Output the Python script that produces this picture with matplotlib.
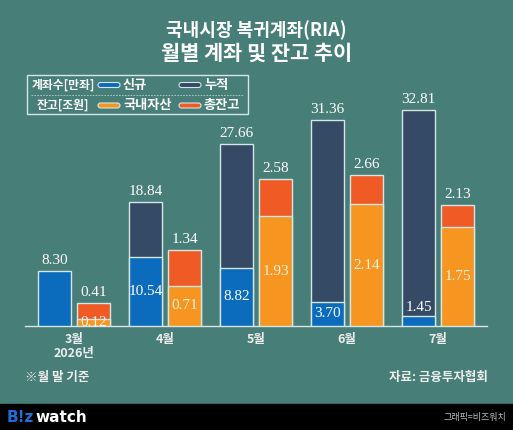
import numpy as np
import matplotlib
matplotlib.use("Agg")
import matplotlib.pyplot as plt
from matplotlib.patches import FancyBboxPatch, Rectangle

plt.rcParams['font.family'] = ['Noto Sans CJK KR', 'DejaVu Sans']

## data
months = ['3월', '4월', '5월', '6월', '7월']
acc_new = [8.30, 10.54, 8.82, 3.70, 1.45]        # 신규 계좌 (만좌)
acc_total = [None, 18.84, 27.66, 31.36, 32.81]   # 누적 계좌 (만좌)
bal_dom = [0.12, 0.71, 1.93, 2.14, 1.75]         # 국내자산 (조원)
bal_total = [0.41, 1.34, 2.58, 2.66, 2.13]       # 총잔고 (조원)

BG = '#477e77'
C_NEW = '#0b6cbd'
C_TOT = '#354a64'
C_DOM = '#f6951f'
C_BAL = '#ef5a25'
EDGE = '#d5e5e8'
TXT = '#eeeeee'
NUMFONT = 'Liberation Serif'

W, H = 513, 430
fig = plt.figure(figsize=(W / 100, H / 100), dpi=100, facecolor=BG)

# overlay in pixel coords for decorations
deco = fig.add_axes([0, 0, 1, 1], zorder=0)
deco.set_xlim(0, W)
deco.set_ylim(H, 0)
deco.axis('off')
deco.set_facecolor(BG)

# title
deco.text(W / 2, 30, '국내시장 복귀계좌(RIA)', color='white', fontsize=13,
          fontweight='heavy', ha='center', va='center')
deco.text(W / 2, 53, '월별 계좌 및 잔고 추이', color='white', fontsize=15,
          fontweight='heavy', ha='center', va='center')

# legend box
deco.add_patch(Rectangle((27, 75), 221, 39, fill=False, ec=EDGE, lw=1))
deco.plot([31, 244], [95, 95], color=EDGE, lw=0.6, ls=(0, (2, 1.5)), alpha=0.8)
deco.text(32, 85, '계좌수[만좌]', color='white', fontsize=8.5, va='center', fontweight='bold')
deco.text(37, 105.5, '잔고[조원]', color='white', fontsize=8.5, va='center', fontweight='bold')
for (x, y, c, lab) in [(98, 85, C_NEW, '신규'), (179, 85, C_TOT, '누적'),
                       (98, 105.5, C_DOM, '국내자산'), (179, 105.5, C_BAL, '총잔고')]:
    deco.add_patch(FancyBboxPatch((x, y - 2.5), 22, 5, boxstyle='round,pad=0,rounding_size=2.5',
                                  fc=c, ec=EDGE, lw=0.8))
    deco.text(x + 25, y, lab, color='white', fontsize=9.5, va='center', fontweight='bold')

# footer notes
deco.text(25, 378, '※월 말 기준', color=TXT, fontsize=9, va='center', fontweight='bold')
deco.text(488, 378, '자료: 금융투자협회', color=TXT, fontsize=9, va='center', ha='right',
          fontweight='bold')

# bottom band
deco.add_patch(Rectangle((0, 404), W, H - 404, color='black'))
deco.text(7, 417.5, 'B!z', color='#1e6fd9', fontsize=11, fontweight='heavy', va='center',
          family='DejaVu Sans')
deco.text(35, 417.5, 'watch', color='white', fontsize=11, fontweight='heavy', va='center',
          family='DejaVu Sans')
deco.text(506, 417.5, '그래픽=비즈워치', color='#bdbdbd', fontsize=6.5, va='center', ha='right')

# chart axes
base_px, top_px = 326, 60
left_px, right_px = 25, 487
ax = fig.add_axes([left_px / W, (H - base_px) / H, (right_px - left_px) / W,
                   (base_px - top_px) / H], zorder=2)
ax.patch.set_alpha(0)
acc_scale = 6.58   # px per 만좌
bal_scale = 56.8   # px per 조원
ax.set_ylim(0, (base_px - top_px) / acc_scale)
spacing = 91.0
ax.set_xlim(-(74 - left_px) / spacing, (right_px - 74) / spacing)
ax2 = ax.twinx()
ax2.patch.set_alpha(0)
ax2.set_ylim(0, (base_px - top_px) / bal_scale)

x = np.arange(len(months))
bw = 33 / spacing
off = 19.5 / spacing

acc_tot_vals = [t if t is not None else 0 for t in acc_total]
ax.bar(x - off, acc_tot_vals, bw, color=C_TOT, ec=EDGE, lw=1, zorder=2)
ax.bar(x - off, acc_new, bw, color=C_NEW, ec=EDGE, lw=1, zorder=3)
ax2.bar(x + off, bal_total, bw, color=C_BAL, ec=EDGE, lw=1, zorder=2)
ax2.bar(x + off, bal_dom, bw, color=C_DOM, ec=EDGE, lw=1, zorder=3)

acc_px = 1 / acc_scale
bal_px = 1 / bal_scale
for i in range(len(months)):
    top = acc_total[i] if acc_total[i] is not None else acc_new[i]
    ax.text(x[i] - off, top + 4 * acc_px, f'{top:.2f}', ha='center', va='bottom',
            color='white', fontsize=11, family=NUMFONT, zorder=5)
    if acc_total[i] is not None:
        if acc_new[i] * acc_scale > 18:
            ax.text(x[i] - off, acc_new[i] / 2, f'{acc_new[i]:.2f}', ha='center', va='center',
                    color='white', fontsize=11, family=NUMFONT, zorder=5)
        else:
            ax.text(x[i] - off, acc_new[i] + 2 * acc_px, f'{acc_new[i]:.2f}', ha='center',
                    va='bottom', color='white', fontsize=11, family=NUMFONT, zorder=5)
    ax2.text(x[i] + off, bal_total[i] + 4 * bal_px, f'{bal_total[i]:.2f}', ha='center',
             va='bottom', color='white', fontsize=11, family=NUMFONT, zorder=5)
    ax2.text(x[i] + off, bal_dom[i] / 2, f'{bal_dom[i]:.2f}', ha='center', va='center',
             color='#fbf1e2', fontsize=11, family=NUMFONT, zorder=5)

for a in (ax, ax2):
    for s in a.spines.values():
        s.set_visible(False)
    a.set_yticks([])
ax.spines['bottom'].set_visible(True)
ax.spines['bottom'].set_color(EDGE)
ax.spines['bottom'].set_linewidth(1)
ax.set_xticks(x)
ax.set_xticklabels(months, color=TXT, fontsize=9, fontweight='bold')
ax.tick_params(axis='x', length=0, pad=5)
ax.text(x[0], -28 * acc_px, '2026년', ha='center', va='center', color=TXT,
        fontsize=9, fontweight='bold')

fig.savefig('out.png', dpi=100, facecolor=BG)
